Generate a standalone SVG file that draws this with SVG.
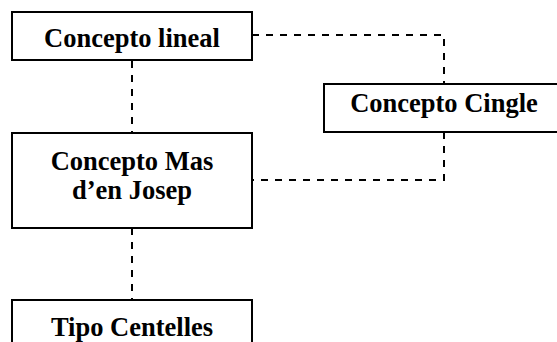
<svg xmlns="http://www.w3.org/2000/svg" width="557" height="342" viewBox="0 0 557 342">
  <style>
    .box { fill: #ffffff; stroke: #000000; stroke-width: 2; }
    .label { font-family: "Liberation Serif", "Times New Roman", serif; font-weight: bold; font-size: 26.5px; fill: #000000; text-anchor: middle; }
    .link { fill: none; stroke: #000000; stroke-width: 2; stroke-dasharray: 7 7; }
  </style>
  <rect width="557" height="342" fill="#ffffff"/>
  <g id="connectors">
    <path class="link" d="M132 61 V133"/>
    <path class="link" d="M132 228 V300"/>
    <path class="link" d="M252 35 H444 V84"/>
    <path class="link" d="M444 132 V180 H252"/>
  </g>
  <g id="concepto-lineal">
    <rect class="box" x="12" y="12" width="240" height="48"/>
    <text class="label" x="132" y="46.5">Concepto lineal</text>
  </g>
  <g id="concepto-cingle">
    <rect class="box" x="324" y="84" width="240" height="48"/>
    <text class="label" x="444" y="111.5">Concepto Cingle</text>
  </g>
  <g id="concepto-mas-den-josep">
    <rect class="box" x="12" y="133" width="240" height="95"/>
    <text class="label" x="132" y="169.5">Concepto Mas</text>
    <text class="label" x="132" y="199">d’en Josep</text>
  </g>
  <g id="tipo-centelles">
    <rect class="box" x="12" y="300" width="240" height="60"/>
    <text class="label" x="132" y="336">Tipo Centelles</text>
  </g>
</svg>
